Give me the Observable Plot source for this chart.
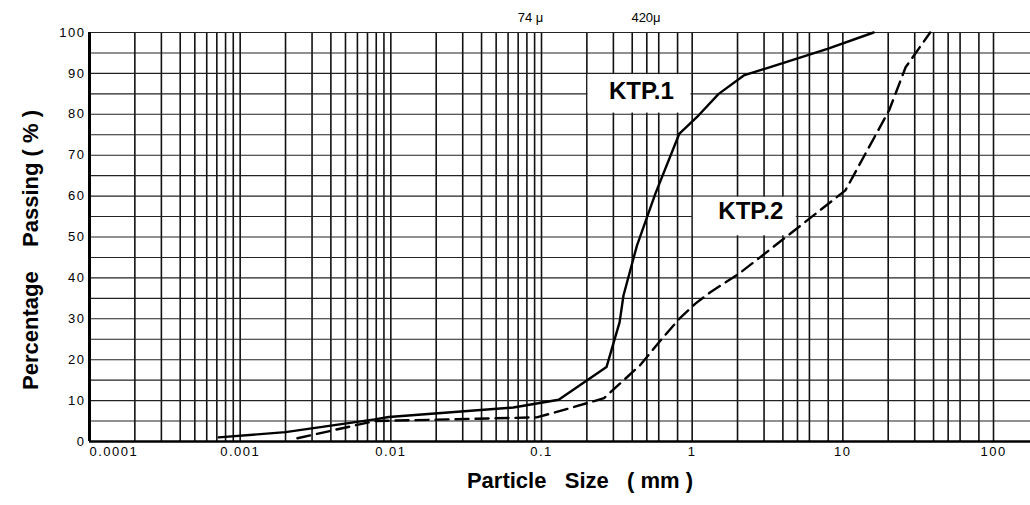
<!DOCTYPE html>
<html>
<head>
<meta charset="utf-8">
<script src="https://cdn.jsdelivr.net/npm/d3@7"></script>
<script src="https://cdn.jsdelivr.net/npm/@observablehq/plot@0.6"></script>
<style>
  html, body { margin: 0; padding: 0; background: #fff; }
  svg { display: block; }
  g[aria-label="x-axis tick label"], g[aria-label="y-axis tick label"] { letter-spacing: 1.5px; }
  g[aria-label="series labels"] { letter-spacing: 1px; }
  g[aria-label="sieve labels"] { letter-spacing: 2px; }
  g[aria-label="axis titles"] { letter-spacing: 1.5px; }
</style>
</head>
<body>
<div id="chart"></div>
<script>
// Grain size distribution of two samples (particle size in mm, percent passing)
const ktp1Size    = [0.00072, 0.002, 0.0078, 0.0097, 0.065, 0.13, 0.27, 0.33, 0.35, 0.43, 0.57, 0.82, 1.1, 1.5, 2.2, 7.9, 16];
const ktp1Passing = [1.0, 2.3, 5.4, 6.0, 8.3, 10.2, 18.2, 29.2, 35.7, 47.9, 60.6, 75.2, 79.7, 85.0, 89.5, 96.0, 100];

const ktp2Size    = [0.0024, 0.0078, 0.093, 0.137, 0.26, 0.45, 0.63, 0.82, 1.05, 1.32, 2.04, 3.05, 10.4, 20.3, 26.1, 38];
const ktp2Passing = [0.8, 5.0, 5.9, 7.6, 10.6, 18.6, 25.1, 30.0, 33.7, 36.5, 41.0, 46.0, 61.4, 81.0, 91.5, 100];

const seriesNames = ["KTP.1", "KTP.2"];

// Axis ticks and labels
const sizeTicks = [0.0001, 0.001, 0.01, 0.1, 1, 10, 100];
const sizeTickLabels = ["0.0001", "0.001", "0.01", "0.1", "1", "10", "100"];
const passingTicks = [0, 10, 20, 30, 40, 50, 60, 70, 80, 90, 100];

// Sieve openings marked above the frame (mm)
const sieveSizes = [0.074, 0.42];
const sieveLabels = ["74 \u03bc", "420\u03bc"];

// Rulings of the semi-log paper
const sizeRulings = [
  0.0002, 0.0003, 0.0004, 0.0005, 0.0006, 0.0007, 0.0008, 0.0009,
  0.001, 0.002, 0.003, 0.004, 0.005, 0.006, 0.007, 0.008, 0.009,
  0.01, 0.02, 0.03, 0.04, 0.05, 0.06, 0.07, 0.08, 0.09,
  0.1, 0.2, 0.3, 0.4, 0.5, 0.6, 0.8,
  1, 2, 3, 4, 5, 6, 8,
  10, 20, 30, 40, 50, 60, 80,
  100
];
const passingRulings = d3.range(0, 101, 5);

// Series label placement: a cleared block of the paper with the name inside
const labelBoxes = [
  {x1: 0.2, x2: 1, y1: 80, y2: 90},
  {x1: 1, x2: 5, y1: 50, y2: 60}
];
const labelAnchors = [
  {x: 0.46, y: 85.5},
  {x: 2.45, y: 56.2}
];

const ktp1 = ktp1Size.map((s, i) => ({size: s, passing: ktp1Passing[i]}));
const ktp2 = ktp2Size.map((s, i) => ({size: s, passing: ktp2Passing[i]}));
const seriesLabels = seriesNames.map((name, i) => ({name, ...labelAnchors[i]}));
const sizeLabel = d => sizeTickLabels[sizeTicks.indexOf(d)];

const font = "'Liberation Sans', Arial, Helvetica, sans-serif";

const chart = Plot.plot({
  width: 1030,
  height: 505,
  marginLeft: 89,
  marginRight: 0,
  marginTop: 32,
  marginBottom: 64,
  style: {fontFamily: font, background: "white", color: "#000"},
  x: {type: "log", domain: [1e-4, 176]},
  y: {domain: [0, 100]},
  marks: [
    Plot.ruleX(sizeRulings, {stroke: "#111", strokeWidth: 1.6}),
    Plot.ruleY(passingRulings, {stroke: "#222", strokeWidth: 1.1}),
    Plot.rect(labelBoxes, {x1: "x1", x2: "x2", y1: "y1", y2: "y2", fill: "white", inset: 1.2}),
    Plot.ruleX([1e-4], {stroke: "#000", strokeWidth: 3}),
    Plot.ruleY([0], {stroke: "#000", strokeWidth: 2.5}),
    Plot.line(ktp1, {x: "size", y: "passing", stroke: "#000", strokeWidth: 2.4}),
    Plot.line(ktp2, {x: "size", y: "passing", stroke: "#000", strokeWidth: 2.4, strokeDasharray: "13,7"}),
    Plot.text(seriesLabels, {
      x: "x", y: "y", text: "name", fontSize: 24, fontWeight: "bold",
      fill: "#000", ariaLabel: "series labels"
    }),
    // first size label sits flush with the left edge of the frame
    Plot.axisX(sizeTicks.slice(0, 1), {
      tickSize: 0, tickPadding: 5, fontSize: 13, label: null, textAnchor: "start", tickFormat: sizeLabel
    }),
    Plot.axisX(sizeTicks.slice(1), {
      tickSize: 0, tickPadding: 5, fontSize: 13, label: null, tickFormat: sizeLabel
    }),
    Plot.axisY(passingTicks, {tickSize: 0, tickPadding: 4, fontSize: 13, label: null}),
    Plot.text(sieveSizes, {
      x: d => d, text: (d, i) => sieveLabels[i], frameAnchor: "top", dy: -20, dx: -4,
      textAnchor: "start", fontSize: 13, ariaLabel: "sieve labels"
    }),
    Plot.text(["Particle\u00a0\u00a0 Size\u00a0\u00a0 (\u00a0mm\u00a0)"], {
      frameAnchor: "bottom", dy: 46, dx: 20, fontSize: 22, fontWeight: "bold", ariaLabel: "axis titles"
    }),
    Plot.text(["Percentage\u00a0\u00a0\u00a0 Passing\u00a0(\u00a0%\u00a0)"], {
      frameAnchor: "left", textAnchor: "middle", rotate: -90, dx: -59, dy: 13,
      fontSize: 22, fontWeight: "bold", ariaLabel: "axis titles"
    })
  ]
});

document.getElementById("chart").append(chart);
</script>
</body>
</html>
